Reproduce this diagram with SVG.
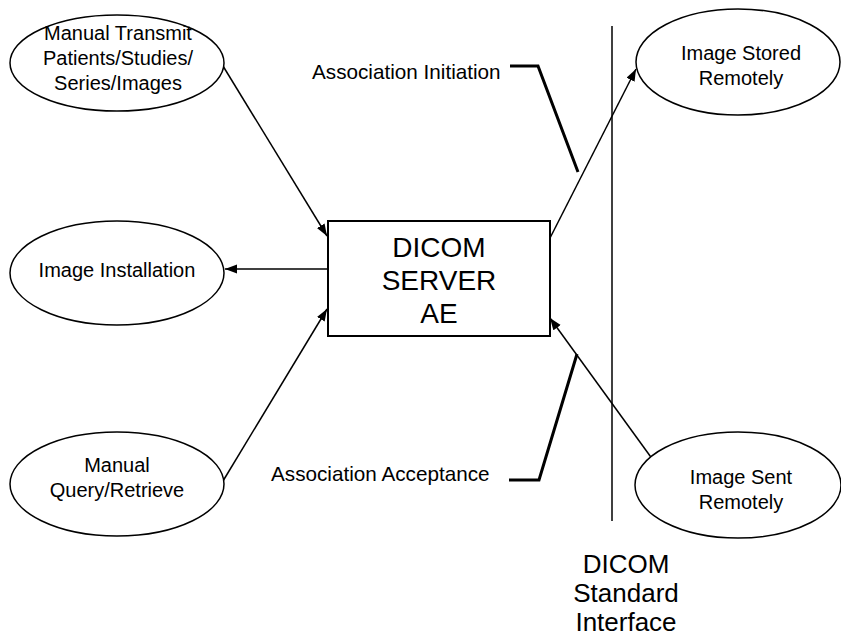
<svg xmlns="http://www.w3.org/2000/svg" width="841" height="643" viewBox="0 0 841 643">
<defs>
<style>
.n{fill:#fff;stroke:#000;stroke-width:1.5}
.t{font-family:"Liberation Sans",Arial,sans-serif;font-size:20px;fill:#000;text-anchor:middle}
.tl{font-family:"Liberation Sans",Arial,sans-serif;font-size:20.7px;fill:#000;text-anchor:start}
.tb{font-family:"Liberation Sans",Arial,sans-serif;font-size:28px;fill:#000;text-anchor:middle}
.ti{font-family:"Liberation Sans",Arial,sans-serif;font-size:26px;fill:#000;text-anchor:middle}
.c{stroke:#000;stroke-width:1.5;fill:none}
.br{stroke:#000;stroke-width:3;fill:none}
</style>
<marker id="ah" markerUnits="userSpaceOnUse" markerWidth="13" markerHeight="10" refX="12" refY="4.5" orient="auto">
<path d="M0,0 L12,4.5 L0,9 z" fill="#000"/>
</marker>
</defs>
<rect width="841" height="643" fill="#fff"/>
<g id="connectors">
<line class="c" x1="223" y1="66" x2="327" y2="236" marker-end="url(#ah)"/>
<line class="c" x1="328" y1="269" x2="225" y2="269" marker-end="url(#ah)"/>
<line class="c" x1="223" y1="481" x2="327" y2="309" marker-end="url(#ah)"/>
<line class="c" x1="549" y1="240" x2="636" y2="69" marker-end="url(#ah)"/>
<line class="c" x1="653" y1="460" x2="550" y2="318" marker-end="url(#ah)"/>
<line class="c" x1="612" y1="26" x2="612" y2="521"/>
<polyline class="br" points="510,66 538,66 578,172"/>
<polyline class="br" points="509,480 539,480 577,354"/>
</g>
<g id="manual-transmit">
<ellipse class="n" cx="117" cy="63" rx="107" ry="48"/>
<text class="t" x="118" y="40">Manual Transmit</text>
<text class="t" x="118" y="65">Patients/Studies/</text>
<text class="t" x="118" y="90">Series/Images</text>
</g>
<g id="image-installation">
<ellipse class="n" cx="117" cy="273" rx="107" ry="52"/>
<text class="t" x="117" y="277">Image Installation</text>
</g>
<g id="manual-query">
<ellipse class="n" cx="117" cy="484" rx="107" ry="52"/>
<text class="t" x="117" y="472">Manual</text>
<text class="t" x="117" y="497">Query/Retrieve</text>
</g>
<g id="dicom-server">
<rect x="328" y="221" width="222" height="115" fill="#fff" stroke="#000" stroke-width="2"/>
<text class="tb" x="439" y="257">DICOM</text>
<text class="tb" x="439" y="290">SERVER</text>
<text class="tb" x="439" y="323">AE</text>
</g>
<g id="image-stored">
<ellipse class="n" cx="738" cy="62" rx="102" ry="53"/>
<text class="t" x="741" y="60">Image Stored</text>
<text class="t" x="741" y="85">Remotely</text>
</g>
<g id="image-sent">
<ellipse class="n" cx="738" cy="485" rx="103" ry="53"/>
<text class="t" x="741" y="484">Image Sent</text>
<text class="t" x="741" y="509">Remotely</text>
</g>
<g id="labels">
<text class="tl" x="312" y="79">Association Initiation</text>
<text class="tl" x="271" y="481">Association Acceptance</text>
<text class="ti" x="626" y="573">DICOM</text>
<text class="ti" x="626" y="602">Standard</text>
<text class="ti" x="626" y="631">Interface</text>
</g>
</svg>
